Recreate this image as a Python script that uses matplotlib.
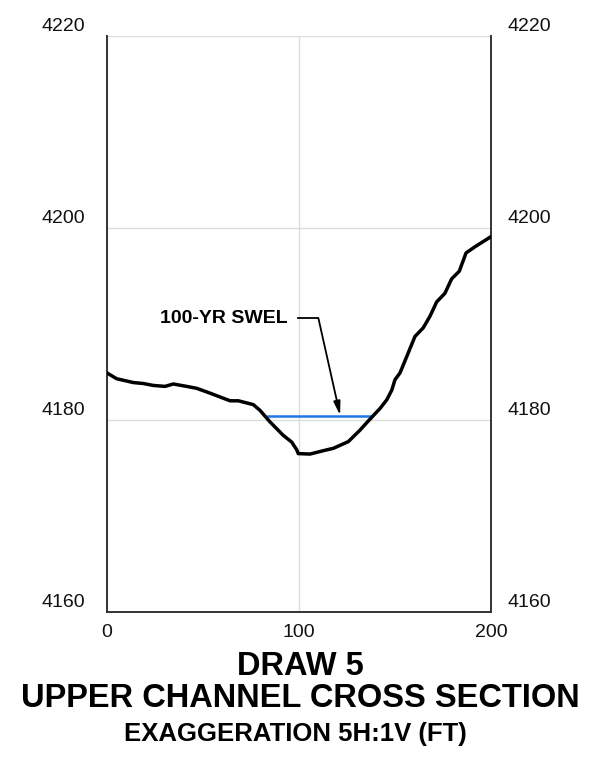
import matplotlib.pyplot as plt
import matplotlib.transforms as mtransforms

plt.rcParams['font.family'] = ['Liberation Sans', 'DejaVu Sans']

# ground profile (station ft, elevation ft)
station = [0, 5, 13.7, 18.9, 24.1, 30.2, 34.5, 41.5, 46.7, 53.6, 64.1, 68.4,
           76.2, 79.7, 84.9, 91.8, 96.2, 98.8, 99.6, 105.7, 112.6, 117.9,
           125.7, 131.8, 136.1, 142.2, 145.7, 148.3, 150.0, 152.6, 156.1,
           160.4, 164.7, 168.2, 171.7, 176.0, 179.5, 183.5, 187.0, 191.7,
           200.0]
elevation = [4184.9, 4184.3, 4183.9, 4183.8, 4183.6, 4183.5, 4183.75, 4183.5,
             4183.3, 4182.8, 4182.0, 4182.0, 4181.6, 4181.0, 4179.8, 4178.4,
             4177.7, 4176.9, 4176.5, 4176.45, 4176.8, 4177.05, 4177.75,
             4178.95, 4179.9, 4181.2, 4182.1, 4183.1, 4184.2, 4184.9,
             4186.6, 4188.7, 4189.6, 4190.8, 4192.3, 4193.2, 4194.7, 4195.5,
             4197.4, 4198.05, 4199.1]

swel_x = [83.9, 137.0]
swel_elev = 4180.4

x_ticks = [0, 100, 200]
y_ticks = [4160, 4180, 4200, 4220]

fig = plt.figure(figsize=(5.89, 7.61), dpi=100)
ax = fig.add_axes([0.1817, 0.1958, 0.6519, 0.7569])

ax.plot(station, elevation, color='black', lw=2.5, solid_joinstyle='round', zorder=3)
ax.plot(swel_x, [swel_elev, swel_elev], color='#1E78E6', lw=1.8, zorder=2)

ax.set_xlim(0, 200)
ax.set_ylim(4160, 4220)
ax.set_xticks(x_ticks)
ax.set_yticks(y_ticks)
ax.grid(True, color='#dddddd', lw=1)
ax.set_axisbelow(True)

for side in ['left', 'right', 'bottom']:
    ax.spines[side].set_color('#333333')
    ax.spines[side].set_linewidth(1.4)
ax.spines['top'].set_visible(False)

ax.tick_params(axis='both', length=0, labelsize=14, colors='#111111')
ax.tick_params(axis='y', labelright=True, pad=15.5)
ax.tick_params(axis='x', pad=9)

# y labels sit a little above their gridlines; right ones a bit closer in
shift_l = mtransforms.ScaledTranslation(0, 11 / 100, fig.dpi_scale_trans)
shift_r = mtransforms.ScaledTranslation(-5 / 100, 11 / 100, fig.dpi_scale_trans)
for t in ax.yaxis.get_major_ticks():
    t.label1.set_transform(t.label1.get_transform() + shift_l)
    t.label2.set_transform(t.label2.get_transform() + shift_r)
    t.label2.set_horizontalalignment('left')

# SWEL callout
ax.text(94.3, 4190.6, '100-YR SWEL', ha='right', va='center',
        fontsize=14, fontweight='bold')
ax.plot([99.6, 110.1], [4190.6, 4190.6], color='black', lw=1.3)
ax.annotate('', xy=(121.4, 4180.5), xytext=(110.1, 4190.6),
            arrowprops=dict(arrowstyle='-|>,head_length=0.8,head_width=0.2',
                            color='black', lw=1.3, shrinkA=0, shrinkB=0))

fig.text(300 / 589, 1 - 675 / 761, 'DRAW 5', ha='center', va='baseline',
         fontsize=23.5, fontweight='bold')
fig.text(300 / 589, 1 - 707 / 761, 'UPPER CHANNEL CROSS SECTION', ha='center',
         va='baseline', fontsize=23.5, fontweight='bold')
fig.text(295 / 589, 1 - 741 / 761, 'EXAGGERATION 5H:1V (FT)', ha='center',
         va='baseline', fontsize=18.5, fontweight='bold')

fig.savefig('out.png', dpi=100)
